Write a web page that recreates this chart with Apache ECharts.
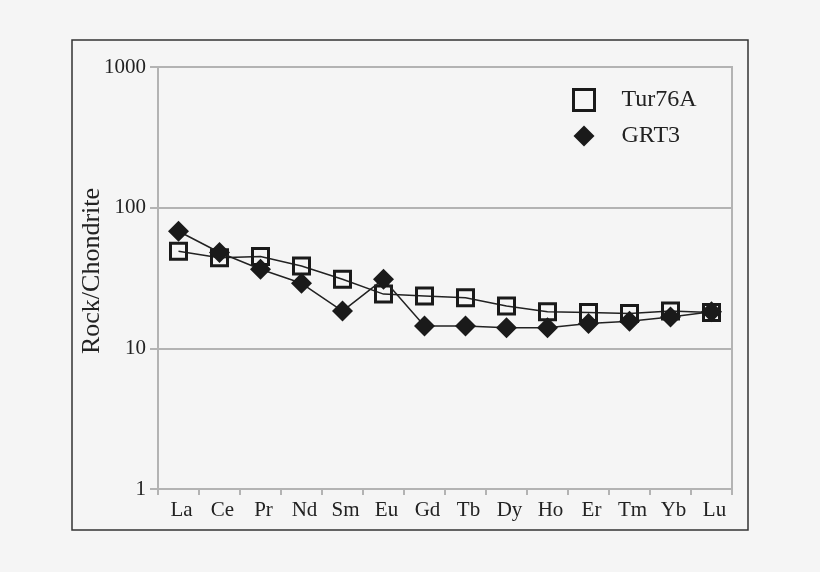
<!DOCTYPE html>
<html>
<head>
<meta charset="utf-8">
<script src="https://cdn.jsdelivr.net/npm/echarts@6/dist/echarts.min.js"></script>
<style>
html,body{margin:0;padding:0;background:#f5f5f5;}
#c{width:820px;height:572px;}
</style>
</head>
<body>
<div id="c"></div>
<script>
const categories = ['La','Ce','Pr','Nd','Sm','Eu','Gd','Tb','Dy','Ho','Er','Tm','Yb','Lu'];
const tur76A = [49, 44, 45, 38.5, 31, 24.3, 23.6, 22.9, 20, 18.2, 18, 17.7, 18.4, 18];
const grt3 = [68, 48, 36.5, 29, 18.4, 31, 14.4, 14.4, 14, 14, 15, 15.6, 16.7, 18.2];
const yTicks = [1, 10, 100, 1000];

const font = 'Liberation Serif';
const chart = echarts.init(document.getElementById('c'));
chart.setOption({
  backgroundColor: '#f5f5f5',
  animation: false,
  graphic: [{
    type: 'rect',
    shape: {x: 72, y: 40, width: 676, height: 490},
    style: {fill: 'none', stroke: '#333', lineWidth: 1.5},
    z: -1
  }],
  grid: {
    left: 158, right: 88, top: 67, bottom: 83,
    show: true, borderColor: '#b3b3b3', borderWidth: 2, backgroundColor: 'transparent'
  },
  legend: {
    orient: 'vertical',
    left: 567, top: 83,
    itemWidth: 21, itemHeight: 21, itemGap: 12,
    textStyle: {fontFamily: font, fontSize: 24, color: '#222', padding: [0, 0, 0, 22]},
    data: [
      {name: 'Tur76A', icon: 'rect', itemStyle: {color: 'transparent', borderColor: '#1a1a1a', borderWidth: 3}},
      {name: 'GRT3', icon: 'diamond', itemStyle: {color: '#1a1a1a', borderWidth: 0}}
    ]
  },
  xAxis: {
    type: 'category',
    data: categories,
    boundaryGap: true,
    axisLine: {lineStyle: {color: '#b3b3b3', width: 2}},
    axisTick: {show: true, length: 6, lineStyle: {color: '#b3b3b3', width: 2}},
    axisLabel: {fontFamily: font, fontSize: 21, color: '#222', margin: 11, interval: 0,
      padding: [0, 0, 0, 6]},
    splitLine: {show: false}
  },
  yAxis: {
    type: 'log',
    logBase: 10,
    min: yTicks[0], max: yTicks[yTicks.length - 1],
    name: 'Rock/Chondrite',
    nameLocation: 'middle',
    nameMoveOverlap: false,
    nameGap: 53,
    nameTextStyle: {fontFamily: font, fontSize: 26, color: '#222', padding: [0, 0, 0, 14]},
    axisLine: {show: true, lineStyle: {color: '#b3b3b3', width: 2}},
    axisTick: {show: true, length: 8, lineStyle: {color: '#b3b3b3', width: 2}},
    axisLabel: {fontFamily: font, fontSize: 21, color: '#222', margin: 12,
      formatter: function (v) { return String(v); }},
    splitLine: {show: true, lineStyle: {color: '#b3b3b3', width: 2}},
    minorTick: {show: false}
  },
  series: [
    {
      name: 'Tur76A', type: 'line', data: tur76A,
      symbol: 'rect', symbolSize: 16,
      lineStyle: {color: '#222', width: 1.5},
      itemStyle: {color: 'transparent', borderColor: '#1a1a1a', borderWidth: 3},
      z: 2
    },
    {
      name: 'GRT3', type: 'line', data: grt3,
      symbol: 'diamond', symbolSize: [21, 21],
      lineStyle: {color: '#222', width: 1.5},
      itemStyle: {color: '#1a1a1a', borderWidth: 0},
      z: 3
    }
  ]
});
</script>
</body>
</html>
